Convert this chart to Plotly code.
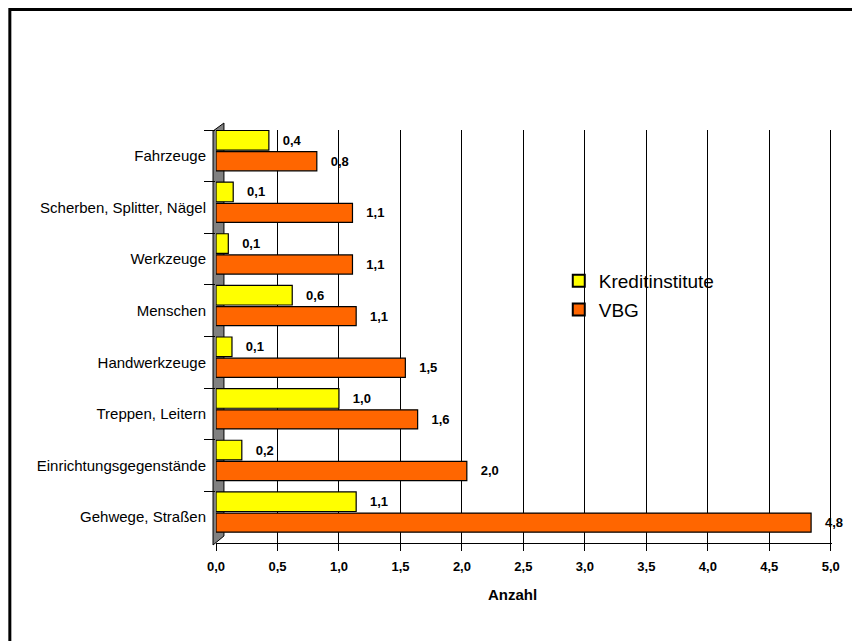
import plotly.graph_objects as go

categories = ["Fahrzeuge", "Scherben, Splitter, Nägel", "Werkzeuge", "Menschen",
              "Handwerkzeuge", "Treppen, Leitern", "Einrichtungsgegenstände", "Gehwege, Straßen"]
kredit = [0.43, 0.14, 0.10, 0.62, 0.13, 1.00, 0.21, 1.14]
vbg = [0.82, 1.11, 1.11, 1.14, 1.54, 1.64, 2.04, 4.84]
xticks = [0, 0.5, 1.0, 1.5, 2.0, 2.5, 3.0, 3.5, 4.0, 4.5, 5.0]

FONT = "Arial, Liberation Sans, sans-serif"
NB = "\u00a0\u00a0\u00a0"

fig = go.Figure()
fig.add_trace(go.Bar(
    y=categories, x=kredit, orientation="h", name="Kreditinstitute", legendgroup="k",
    offset=-0.49, width=0.38,
    marker=dict(color="#FFFF00", line=dict(color="#000000", width=1.2)),
    texttemplate=NB + "%{x:.1f}", textposition="outside", cliponaxis=False,
    textfont=dict(family=FONT, size=13, color="black", weight="bold"),
))
fig.add_trace(go.Bar(
    y=categories, x=vbg, orientation="h", name="VBG", legendgroup="v",
    offset=-0.08, width=0.37,
    marker=dict(color="#FF6600", line=dict(color="#000000", width=1.2)),
    texttemplate=NB + "%{x:.1f}", textposition="outside", cliponaxis=False,
    textfont=dict(family=FONT, size=13, color="black", weight="bold"),
))

# plot area in page pixels: x 216..836, y 130..543
L, R, T, B = 216, 836, 130, 543
W, H = 852, 641
pw, ph = R - L, B - T

def px(x):
    return (x - L) / pw

def py(y):
    return (B - y) / ph

wall = "M {x0},{y0} L {x1},{y1} L {x1},{y2} L {x0},{y3} Z".format(
    x0=px(213), y0=py(131), x1=px(224), y1=py(123), y2=py(536), y3=py(545))

shapes = [
    # outer frame (right/bottom edges lie outside the picture)
    dict(type="rect", xref="paper", yref="paper", x0=px(8.5), x1=px(860), y0=py(650), y1=py(9.5),
         line=dict(color="black", width=3), fillcolor="rgba(0,0,0,0)", layer="above"),
    # grey side wall
    dict(type="path", xref="paper", yref="paper", path=wall,
         line=dict(color="black", width=1), fillcolor="#808080", layer="below"),
]

annotations = [
    dict(text="<b>Anzahl</b>", xref="paper", yref="paper", x=px(514), y=py(594),
         xanchor="center", yanchor="middle", showarrow=False,
         font=dict(family=FONT, size=15, color="black")),
]

fig.update_layout(
    width=W, height=H,
    margin=dict(l=L, r=W - R, t=T, b=H - B),
    paper_bgcolor="white", plot_bgcolor="white",
    separators=",.",
    barmode="group",
    font=dict(family=FONT, size=12, color="black"),
    showlegend=True,
    legend=dict(x=px(561), y=py(262), xanchor="left", yanchor="top",
                font=dict(family=FONT, size=19, color="black"),
                bgcolor="rgba(0,0,0,0)", tracegroupgap=1, itemsizing="constant"),
    xaxis=dict(range=[0, 5.01], tickvals=xticks, tickformat=".1f",
               showgrid=True, gridcolor="black", gridwidth=1.3,
               zeroline=False, showline=True, linecolor="black", linewidth=1.3,
               ticks="outside", ticklen=7, tickcolor="black", tickwidth=1.3,
               ticklabelstandoff=4,
               tickfont=dict(family=FONT, size=13, color="black", weight="bold")),
    yaxis=dict(categoryorder="array", categoryarray=categories, autorange="reversed",
               showgrid=False, zeroline=False, showline=False,
               ticks="outside", ticklen=11, tickcolor="black", tickwidth=1.3,
               tickson="boundaries", ticklabelstandoff=9,
               tickfont=dict(family=FONT, size=15, color="black")),
    shapes=shapes,
    annotations=annotations,
)

fig.write_html("out.html", config={"displayModeBar": False},
               post_script="document.body.style.margin='0px';")
